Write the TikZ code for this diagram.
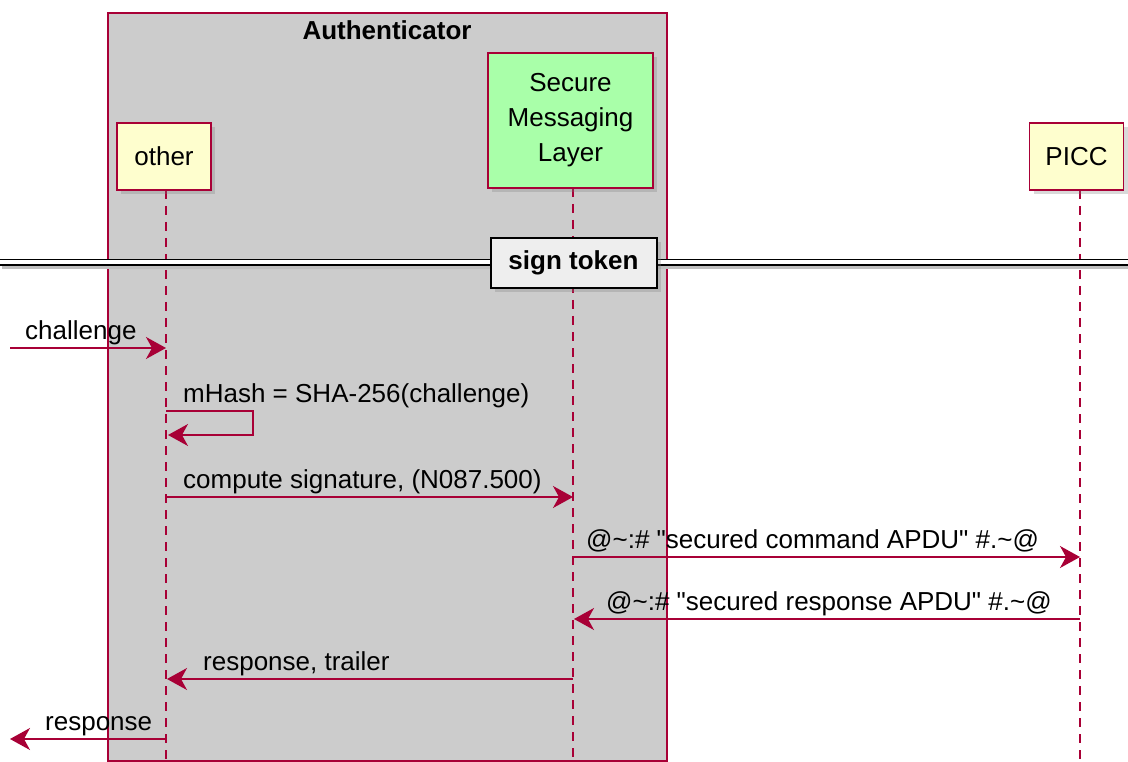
\documentclass[tikz,border=0pt]{standalone}
\usepackage{fontspec}
\setmainfont{Liberation Sans}
\usetikzlibrary{arrows.meta,shadows,positioning}

\definecolor{umlred}{HTML}{A80036}
\definecolor{umlyellow}{HTML}{FEFECE}
\definecolor{umlgreen}{HTML}{A9FFA9}
\definecolor{boxgray}{HTML}{CCCCCC}
\definecolor{divgray}{HTML}{EEEEEE}

\begin{document}
\begin{tikzpicture}[
    x=1pt, y=-1pt,
    every node/.style={font=\fontsize{26}{35}\selectfont},
    actor/.style={draw=umlred, line width=1.5pt, align=center, inner sep=0pt,
        drop shadow={shadow xshift=4pt, shadow yshift=-4pt, opacity=0.3}},
    lifeline/.style={draw=umlred, line width=1.5pt, dash pattern=on 9pt off 7pt},
    msg/.style={draw=umlred, line width=1.5pt,
        -{Stealth[length=20pt, width=22pt, inset=6pt]}},
    msglabel/.style={anchor=base west, inner sep=0pt},
]
    \useasboundingbox (0,0) rectangle (1128,762);

    % box round the authenticator
    \draw[umlred, fill=boxgray, line width=1.5pt] (108,13) rectangle (667,761);
    \node[font=\fontsize{26}{30}\selectfont\bfseries] (auth) at (387,30) {Authenticator};

    % lifelines
    \coordinate (otherTop) at (166,190);
    \coordinate (otherBot) at (166,762);
    \coordinate (smlTop) at (573,188);
    \coordinate (smlBot) at (573,762);
    \coordinate (piccTop) at (1080,190);
    \coordinate (piccBot) at (1080,762);
    \draw[lifeline] (otherTop) -- (otherBot);
    \draw[lifeline] (smlTop) -- (smlBot);
    \draw[lifeline] (piccTop) -- (piccBot);

    % participants
    \node[actor, fill=umlyellow, minimum width=94pt, minimum height=67pt]
        (other) at (164,156.5) {other};
    \node[actor, fill=umlgreen, minimum width=165pt, minimum height=135pt]
        (sml) at (570.5,120.5) {Secure\\Messaging\\Layer};
    \node[actor, fill=umlyellow, minimum width=94pt, minimum height=67pt]
        (picc) at (1076.5,156.5) {PICC};

    % divider
    \coordinate (divL) at (0,262.5);
    \coordinate (divR) at (1128,262.5);
    \draw[black!25, line width=2.5pt] (2,267.5) -- (1128,267.5);
    \draw[black, double=white, double distance=4pt, line width=1.5pt] (divL) -- (divR);
    \node[draw=black, line width=2pt, fill=divgray, minimum width=166pt, minimum height=50pt,
        font=\fontsize{26}{30}\selectfont\bfseries,
        drop shadow={shadow xshift=4pt, shadow yshift=-4pt, opacity=0.3}]
        (sign) at (573.5,263) {sign token};

    % challenge
    \coordinate (inStart) at (10,348);
    \coordinate (otherIn) at (166,348);
    \draw[msg] (inStart) -- (otherIn);
    \node[msglabel] (lChallenge) at (25,339) {challenge};

    % self message
    \coordinate (selfA) at (166,411);
    \coordinate (selfB) at (253,411);
    \coordinate (selfC) at (253,435);
    \coordinate (selfD) at (168,435);
    \draw[msg] (selfA) -- (selfB) -- (selfC) -- (selfD);
    \node[msglabel] (lHash) at (183,402) {mHash = SHA-256(challenge)};

    % compute signature
    \coordinate (otherSig) at (166,497);
    \coordinate (smlSig) at (573,497);
    \draw[msg] (otherSig) -- (smlSig);
    \node[msglabel] (lSig) at (183,488) {compute signature, (N087.500)};

    % command APDU
    \coordinate (smlCmd) at (573,557);
    \coordinate (piccCmd) at (1080,557);
    \draw[msg] (smlCmd) -- (piccCmd);
    \node[msglabel] (lCmd) at (586,548)
        {@\textasciitilde:\# \textquotedbl secured command APDU\textquotedbl{} \#.\textasciitilde@};

    % response APDU
    \coordinate (piccRsp) at (1080,619);
    \coordinate (smlRsp) at (574,619);
    \draw[msg] (piccRsp) -- (smlRsp);
    \node[msglabel] (lRsp) at (606,610)
        {@\textasciitilde:\# \textquotedbl secured response APDU\textquotedbl{} \#.\textasciitilde@};

    % response, trailer
    \coordinate (smlOut) at (573,679);
    \coordinate (otherOut) at (167,679);
    \draw[msg] (smlOut) -- (otherOut);
    \node[msglabel] (lTrailer) at (203,670) {response, trailer};

    % response
    \coordinate (otherEnd) at (166,739);
    \coordinate (outEnd) at (10,739);
    \draw[msg] (otherEnd) -- (outEnd);
    \node[msglabel] (lResponse) at (45,730) {response};
\end{tikzpicture}
\end{document}
